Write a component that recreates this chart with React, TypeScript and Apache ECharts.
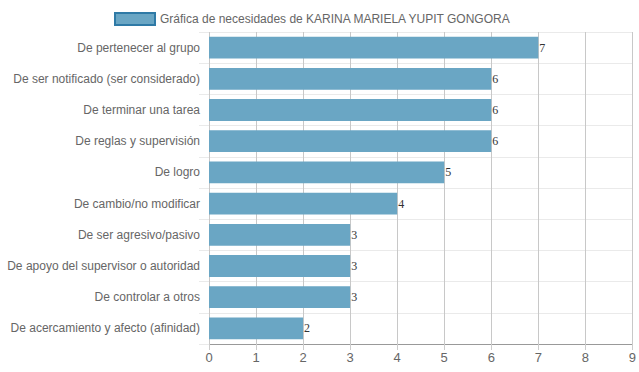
import React, { useEffect, useRef } from "react";
import * as echarts from "echarts";

const categories = [
  "De pertenecer al grupo",
  "De ser notificado (ser considerado)",
  "De terminar una tarea",
  "De reglas y supervisión",
  "De logro",
  "De cambio/no modificar",
  "De ser agresivo/pasivo",
  "De apoyo del supervisor o autoridad",
  "De controlar a otros",
  "De acercamiento y afecto (afinidad)",
];
const values = [7, 6, 6, 6, 5, 4, 3, 3, 3, 2];
const seriesName = "Gráfica de necesidades de KARINA MARIELA YUPIT GONGORA";

export default function App() {
  const ref = useRef<HTMLDivElement>(null);
  useEffect(() => {
    const chart = echarts.init(ref.current!, null, { renderer: "svg" });
    chart.setOption({
      animation: false,
      legend: {
        top: 7,
        left: 109,
        icon: "rect",
        itemWidth: 40,
        itemHeight: 12,
        itemGap: 6,
        textStyle: { color: "#666", fontSize: 12, fontFamily: "Liberation Sans, Arial, sans-serif" },
        data: [{ name: seriesName, icon: "rect", itemStyle: { color: "#6aa6c4", borderColor: "#2f7aa6", borderWidth: 2 } }],
      },
      grid: { left: 209, right: 6, top: 32, bottom: 28, containLabel: false },
      xAxis: {
        type: "value",
        min: 0,
        max: 9,
        interval: 1,
        axisLine: { show: true, lineStyle: { color: "#999" } },
        axisTick: { show: true, length: 6, lineStyle: { color: "#ccc" } },
        axisLabel: { color: "#666", fontSize: 13, margin: 7, fontFamily: "Liberation Sans, Arial, sans-serif" },
        splitLine: { show: true, lineStyle: { color: "#c8c8c8" } },
      },
      yAxis: {
        type: "category",
        inverse: true,
        data: categories,
        axisLine: { show: false },
        axisTick: { show: true, length: 10, lineStyle: { color: "#eaeaea" } },
        axisLabel: { color: "#666", fontSize: 12, margin: 9, fontFamily: "Liberation Sans, Arial, sans-serif" },
        splitLine: { show: true, lineStyle: { color: "#eaeaea" } },
      },
      series: [
        {
          name: seriesName,
          type: "bar",
          data: values,
          barCategoryGap: "30%",
          itemStyle: { color: "#6aa6c4" },
          label: {
            show: true,
            position: "right",
            distance: 1,
            color: "#333",
            fontSize: 12,
            fontFamily: "Liberation Serif, Times New Roman, serif",
          },
        },
      ],
    });
    return () => chart.dispose();
  }, []);
  return <div ref={ref} style={{ width: 639, height: 372, position: "absolute", left: 0, top: 0 }} />;
}
